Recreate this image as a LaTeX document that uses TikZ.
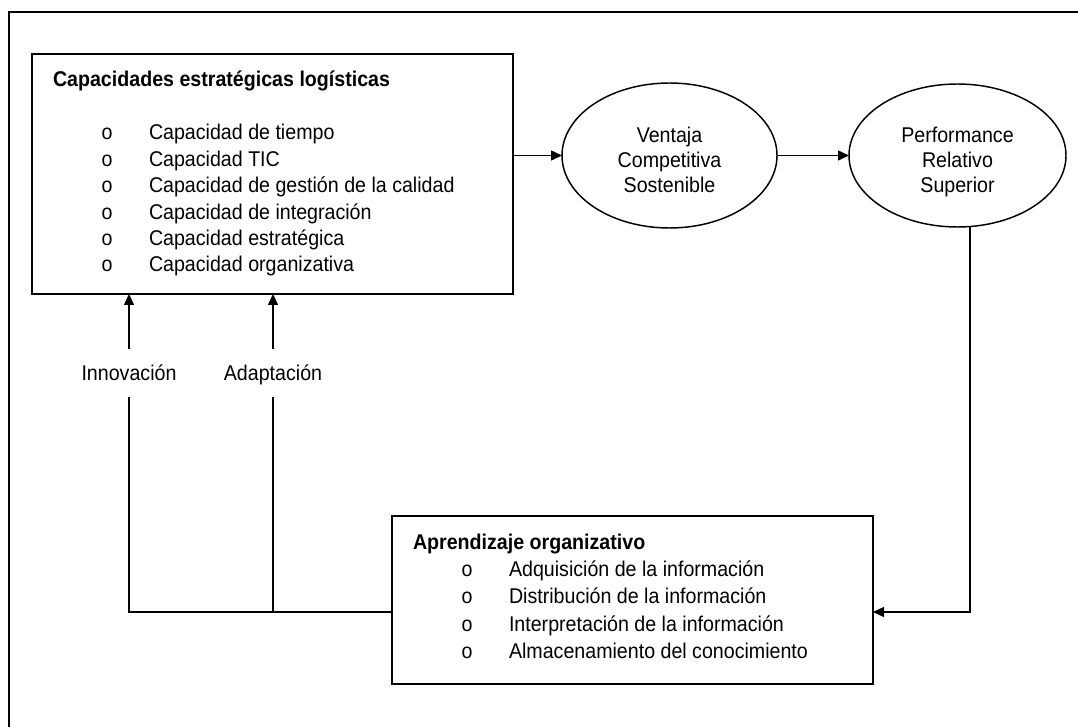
\documentclass[tikz,border=0pt]{standalone}
\usepackage{fontspec}
\setmainfont{Liberation Sans}[FakeStretch=0.92]
\usetikzlibrary{shapes.geometric,arrows.meta}
\begin{document}
\begin{tikzpicture}[x=0.75pt,y=-0.75pt,
  frameline/.style={line width=1.5pt},
  box/.style={draw,line width=1.3pt,rectangle,inner sep=0pt,outer sep=0pt},
  oval/.style={draw,line width=1.1pt,ellipse,inner sep=0pt,outer sep=0pt},
  conn/.style={line width=1.1pt},
  arr/.style={conn,-{Triangle[length=8.25pt,width=7.5pt]}},
  txt/.style={inner sep=0pt,outer sep=0pt,font=\fontsize{16}{19.1}\selectfont},
  head/.style={txt,font=\fontsize{16}{19.1}\selectfont\bfseries},
  flowlbl/.style={txt,anchor=base,text height=23.25pt,text depth=12.75pt}
]
\useasboundingbox (0,0) rectangle (1078,727);

% page frame (open on the right and bottom)
\draw[frameline] (9,727) -- (9,12) -- (1078,12);

% logistics capabilities box
\node[box,minimum width=360.75pt,minimum height=180pt] (cap) at (272.5,174) {};
\node[head,anchor=base west] (capt) at (53,87) {Capacidades estratégicas logísticas};
\foreach \t [count=\i from 0] in {Capacidad de tiempo,Capacidad TIC,Capacidad de gestión de la calidad,Capacidad de integración,Capacidad estratégica,Capacidad organizativa}{
  \node[txt,anchor=base] (cb\i) at (107,140+26.4*\i) {o};
  \node[txt,anchor=base west] (ct\i) at (149,140+26.4*\i) {\t};
}

% outcome ellipses
\node[oval,minimum width=161.25pt,minimum height=108.75pt] (vcs) at (669.5,155.5) {};
\node[txt,align=center] (vcst) at (669.5,162.4) {\strut Ventaja\\Competitiva\\Sostenible\strut};
\node[oval,minimum width=162.75pt,minimum height=107.25pt] (prs) at (957.5,155.5) {};
\node[txt,align=center] (prst) at (957.5,162.4) {\strut Performance\\Relativo\\Superior\strut};

% organisational learning box
\node[box,minimum width=360.75pt,minimum height=126pt] (ao) at (632.5,600) {};
\node[head,anchor=base west] (aot) at (413,549) {Aprendizaje organizativo};
\foreach \t [count=\i from 0] in {Adquisición de la información,Distribución de la información,Interpretación de la información,Almacenamiento del conocimiento}{
  \node[txt,anchor=base] (ab\i) at (467,576+27.6*\i) {o};
  \node[txt,anchor=base west] (at\i) at (509,576+27.6*\i) {\t};
}

% feedback labels
\node[flowlbl] (innov) at (129,380) {Innovación};
\node[flowlbl] (adapt) at (273,380) {Adaptación};

% junctions of the feedback loop
\coordinate (jI) at (129,612);
\coordinate (jA) at (273,612);
\coordinate (jR) at (970,612);

% forward chain
\draw[arr] (vcs.west -| cap.east) -- (vcs.west);
\draw[arr] (vcs.east) -- (prs.west);

% performance back to learning
\draw[arr] (prs.-80) -- (prs.-80 |- jR) -- (jR -| ao.east);

% learning back to capabilities
\draw[conn] (jA -| ao.west) -- (jI) -- (innov.south);
\draw[conn] (jA) -- (adapt.south);
\draw[arr] (innov.north) -- (innov.north |- cap.south);
\draw[arr] (adapt.north) -- (adapt.north |- cap.south);
\end{tikzpicture}
\end{document}
